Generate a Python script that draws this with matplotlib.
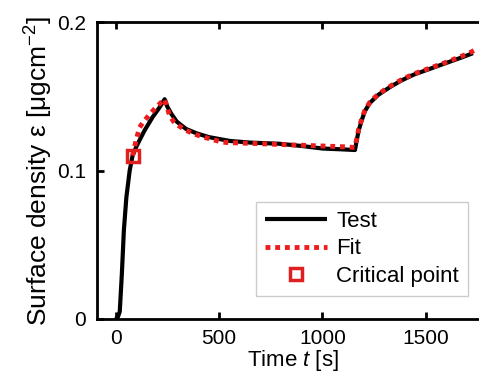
import matplotlib.pyplot as plt

plt.rcParams['font.family'] = ['Liberation Sans', 'DejaVu Sans']
plt.rcParams['mathtext.fontset'] = 'custom'
plt.rcParams['mathtext.rm'] = 'Liberation Sans'
plt.rcParams['mathtext.it'] = 'Liberation Sans:italic'

# measured test curve
test_t = [0, 10, 20, 30, 40, 52, 68, 82, 100, 116, 140, 179, 210, 237, 250, 270, 295,
          340, 392, 450, 552, 650, 793, 900, 1000, 1100, 1157, 1165, 1175, 1190,
          1205, 1229, 1270, 1330, 1380, 1440, 1510, 1600, 1680, 1727]
test_y = [0.0, 0.001, 0.005, 0.030, 0.060, 0.082, 0.100, 0.110, 0.116, 0.1205, 0.127,
          0.136, 0.142, 0.148, 0.143, 0.138, 0.133, 0.128, 0.125, 0.1225, 0.1199, 0.1188,
          0.118, 0.1165, 0.1148, 0.1142, 0.1138, 0.120, 0.127, 0.134, 0.140, 0.1455,
          0.151, 0.1565, 0.1605, 0.1645, 0.168, 0.1725, 0.1765, 0.179]

# fitted curve, starts at the critical point
fit_t = [82, 100, 116, 130, 160, 198, 237, 250, 261, 280, 295, 340, 392, 450, 518, 600,
         711, 800, 900, 1000, 1100, 1155, 1165, 1175, 1190, 1205, 1229, 1270, 1330,
         1380, 1440, 1510, 1600, 1700, 1750]
fit_y = [0.110, 0.121, 0.129, 0.132, 0.137, 0.143, 0.148, 0.142, 0.137, 0.133, 0.131,
         0.127, 0.124, 0.1215, 0.119, 0.1185, 0.118, 0.1175, 0.117, 0.1165, 0.116, 0.1155,
         0.121, 0.128, 0.135, 0.1405, 0.146, 0.1515, 0.157, 0.161, 0.165, 0.1685, 0.173,
         0.1785, 0.182]

crit_t = [82]
crit_y = [0.110]

fig = plt.figure(figsize=(4.79, 3.74), dpi=100)
ax = fig.add_axes([97 / 479, 55 / 374, 391 / 479, 297 / 374])

ax.plot(test_t, test_y, color='black', lw=3, label='Test', solid_capstyle='butt')
ax.plot(fit_t, fit_y, color='#ee1c1c', lw=3.5, dashes=(1, 1), dash_capstyle='butt', label='Fit')
ax.plot(crit_t, crit_y, 's', ms=9, mfc='none', mec='#e02020', mew=2.5, label='Critical point')

ax.set_xlim(-90, 1800)
ax.set_ylim(0, 0.2)
ax.set_xticks([0, 500, 1000, 1500])
ax.set_yticks([0, 0.1, 0.2])
ax.set_yticklabels(['0', '0.1', '0.2'])
ax.tick_params(direction='in', top=True, right=True, length=5, width=2, labelsize=15, pad=8)
ax.tick_params(axis='x', pad=7)
for s in ax.spines.values():
    s.set_linewidth(2)

ax.set_xlabel('Time $t$ [s]', fontsize=16, labelpad=0)
ax.set_ylabel('Surface density ε [μgcm$^{-2}$]', fontsize=19, labelpad=1)

leg = ax.legend(loc='lower right', bbox_to_anchor=(468 / 479, 78 / 374),
                bbox_transform=fig.transFigure, borderaxespad=0, fontsize=16,
                handlelength=2.8, fancybox=False, framealpha=1, edgecolor='#cccccc',
                borderpad=0.4, labelspacing=0.3, handletextpad=0.4)
leg.get_frame().set_linewidth(1)

fig.savefig('out.png', dpi=100)
